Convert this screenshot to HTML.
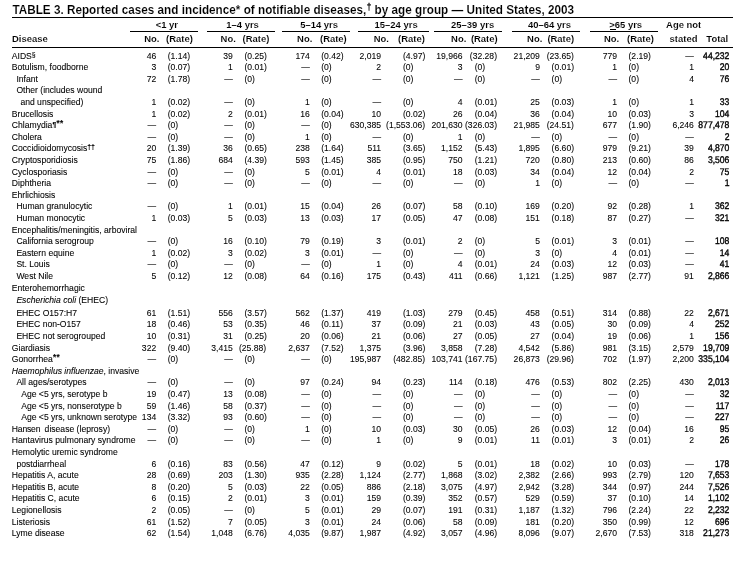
<!DOCTYPE html>
<html><head><meta charset="utf-8"><title>Table 3</title><style>
*{margin:0;padding:0}
html,body{width:755px;height:564px;background:#fff;overflow:hidden}
body{position:relative;filter:grayscale(1);font-family:"Liberation Sans",Arial,Helvetica,sans-serif;color:#000}
.t{position:absolute;white-space:nowrap;-webkit-text-stroke:0.08px #000;font-size:8.6px;line-height:10px}
.r{text-align:right}
.t{transform:scaleY(1.14);transform-origin:0 7.980px}
.h{transform:scaleY(1.0);transform-origin:0 8.274px}
.c{text-align:center}
.b{font-weight:bold;-webkit-text-stroke:0}
.tot{-webkit-text-stroke:0.32px #000;text-rendering:geometricPrecision;transform:scaleY(1.12)}
.ln{position:absolute;height:1px;background:#000}
.ttl{font-size:11.74px;line-height:12px;transform:scaleY(1.12);-webkit-text-stroke:0.12px #fff}
.h{font-size:9.45px;-webkit-text-stroke:0.08px #fff}
sup{font-size:0.74em;font-weight:bold;vertical-align:0;position:relative;top:-0.42em;line-height:0}
sup.s{font-weight:normal;font-size:0.8em;top:-0.3em}
sup.p{font-size:0.8em;top:-0.15em;margin-right:0.3px}
.ts{font-size:0.7em;font-weight:normal;top:-0.5em;margin-left:0.5px;-webkit-text-stroke:0.25px #000}
sup.a{font-size:0.95em;top:-0.2em;letter-spacing:0.4px}
sup.d{font-size:0.82em;top:-0.25em;font-weight:bold;letter-spacing:-0.3px}
</style></head>
<body>
<div class="t " style="left:11.80px;top:50.62px">AIDS<sup class=s>§</sup></div>
<div class="t r " style="right:598.80px;top:50.62px">46</div>
<div class="t " style="left:167.70px;top:50.62px">(1.14)</div>
<div class="t r " style="right:522.20px;top:50.62px">39</div>
<div class="t " style="left:244.40px;top:50.62px">(0.25)</div>
<div class="t r " style="right:445.20px;top:50.62px">174</div>
<div class="t " style="left:321.20px;top:50.62px">(0.42)</div>
<div class="t r " style="right:373.90px;top:50.62px">2,019</div>
<div class="t " style="left:402.90px;top:50.62px">(4.97)</div>
<div class="t r " style="right:292.40px;top:50.62px">19,966</div>
<div class="t r " style="right:258.00px;top:50.62px">(32.28)</div>
<div class="t r " style="right:215.10px;top:50.62px">21,209</div>
<div class="t r " style="right:181.10px;top:50.62px">(23.65)</div>
<div class="t r " style="right:137.90px;top:50.62px">779</div>
<div class="t " style="left:628.50px;top:50.62px">(2.19)</div>
<div class="t r " style="right:61.10px;top:50.62px">—</div>
<div class="t r tot" style="right:25.60px;top:50.62px">44,232</div>
<div class="t " style="left:11.80px;top:61.82px">Botulism, foodborne</div>
<div class="t r " style="right:598.80px;top:61.82px">3</div>
<div class="t " style="left:167.70px;top:61.82px">(0.07)</div>
<div class="t r " style="right:522.20px;top:61.82px">1</div>
<div class="t " style="left:244.40px;top:61.82px">(0.01)</div>
<div class="t r " style="right:445.20px;top:61.82px">—</div>
<div class="t " style="left:321.20px;top:61.82px">(0)</div>
<div class="t r " style="right:373.90px;top:61.82px">2</div>
<div class="t " style="left:402.90px;top:61.82px">(0)</div>
<div class="t r " style="right:292.40px;top:61.82px">3</div>
<div class="t " style="left:474.70px;top:61.82px">(0)</div>
<div class="t r " style="right:215.10px;top:61.82px">9</div>
<div class="t " style="left:551.60px;top:61.82px">(0.01)</div>
<div class="t r " style="right:137.90px;top:61.82px">1</div>
<div class="t " style="left:628.50px;top:61.82px">(0)</div>
<div class="t r " style="right:61.10px;top:61.82px">1</div>
<div class="t r tot" style="right:25.60px;top:61.82px">20</div>
<div class="t " style="left:16.40px;top:73.82px">Infant</div>
<div class="t r " style="right:598.80px;top:73.82px">72</div>
<div class="t " style="left:167.70px;top:73.82px">(1.78)</div>
<div class="t r " style="right:522.20px;top:73.82px">—</div>
<div class="t " style="left:244.40px;top:73.82px">(0)</div>
<div class="t r " style="right:445.20px;top:73.82px">—</div>
<div class="t " style="left:321.20px;top:73.82px">(0)</div>
<div class="t r " style="right:373.90px;top:73.82px">—</div>
<div class="t " style="left:402.90px;top:73.82px">(0)</div>
<div class="t r " style="right:292.40px;top:73.82px">—</div>
<div class="t " style="left:474.70px;top:73.82px">(0)</div>
<div class="t r " style="right:215.10px;top:73.82px">—</div>
<div class="t " style="left:551.60px;top:73.82px">(0)</div>
<div class="t r " style="right:137.90px;top:73.82px">—</div>
<div class="t " style="left:628.50px;top:73.82px">(0)</div>
<div class="t r " style="right:61.10px;top:73.82px">4</div>
<div class="t r tot" style="right:25.60px;top:73.82px">76</div>
<div class="t " style="left:16.40px;top:84.52px">Other (includes wound</div>
<div class="t " style="left:20.40px;top:97.22px">and unspecified)</div>
<div class="t r " style="right:598.80px;top:97.22px">1</div>
<div class="t " style="left:167.70px;top:97.22px">(0.02)</div>
<div class="t r " style="right:522.20px;top:97.22px">—</div>
<div class="t " style="left:244.40px;top:97.22px">(0)</div>
<div class="t r " style="right:445.20px;top:97.22px">1</div>
<div class="t " style="left:321.20px;top:97.22px">(0)</div>
<div class="t r " style="right:373.90px;top:97.22px">—</div>
<div class="t " style="left:402.90px;top:97.22px">(0)</div>
<div class="t r " style="right:292.40px;top:97.22px">4</div>
<div class="t " style="left:474.70px;top:97.22px">(0.01)</div>
<div class="t r " style="right:215.10px;top:97.22px">25</div>
<div class="t " style="left:551.60px;top:97.22px">(0.03)</div>
<div class="t r " style="right:137.90px;top:97.22px">1</div>
<div class="t " style="left:628.50px;top:97.22px">(0)</div>
<div class="t r " style="right:61.10px;top:97.22px">1</div>
<div class="t r tot" style="right:25.60px;top:97.22px">33</div>
<div class="t " style="left:11.80px;top:109.42px">Brucellosis</div>
<div class="t r " style="right:598.80px;top:109.42px">1</div>
<div class="t " style="left:167.70px;top:109.42px">(0.02)</div>
<div class="t r " style="right:522.20px;top:109.42px">2</div>
<div class="t " style="left:244.40px;top:109.42px">(0.01)</div>
<div class="t r " style="right:445.20px;top:109.42px">16</div>
<div class="t " style="left:321.20px;top:109.42px">(0.04)</div>
<div class="t r " style="right:373.90px;top:109.42px">10</div>
<div class="t " style="left:402.90px;top:109.42px">(0.02)</div>
<div class="t r " style="right:292.40px;top:109.42px">26</div>
<div class="t " style="left:474.70px;top:109.42px">(0.04)</div>
<div class="t r " style="right:215.10px;top:109.42px">36</div>
<div class="t " style="left:551.60px;top:109.42px">(0.04)</div>
<div class="t r " style="right:137.90px;top:109.42px">10</div>
<div class="t " style="left:628.50px;top:109.42px">(0.03)</div>
<div class="t r " style="right:61.10px;top:109.42px">3</div>
<div class="t r tot" style="right:25.60px;top:109.42px">104</div>
<div class="t " style="left:11.80px;top:119.92px">Chlamydia<sup class=p>¶</sup><sup class=a>**</sup></div>
<div class="t r " style="right:598.80px;top:119.92px">—</div>
<div class="t " style="left:167.70px;top:119.92px">(0)</div>
<div class="t r " style="right:522.20px;top:119.92px">—</div>
<div class="t " style="left:244.40px;top:119.92px">(0)</div>
<div class="t r " style="right:445.20px;top:119.92px">—</div>
<div class="t " style="left:321.20px;top:119.92px">(0)</div>
<div class="t r " style="right:373.90px;top:119.92px">630,385</div>
<div class="t r " style="right:329.80px;top:119.92px">(1,553.06)</div>
<div class="t r " style="right:292.40px;top:119.92px">201,630</div>
<div class="t r " style="right:258.00px;top:119.92px">(326.03)</div>
<div class="t r " style="right:215.10px;top:119.92px">21,985</div>
<div class="t r " style="right:181.10px;top:119.92px">(24.51)</div>
<div class="t r " style="right:137.90px;top:119.92px">677</div>
<div class="t " style="left:628.50px;top:119.92px">(1.90)</div>
<div class="t r " style="right:61.10px;top:119.92px">6,246</div>
<div class="t r tot" style="right:25.60px;top:119.92px">877,478</div>
<div class="t " style="left:11.80px;top:131.62px">Cholera</div>
<div class="t r " style="right:598.80px;top:131.62px">—</div>
<div class="t " style="left:167.70px;top:131.62px">(0)</div>
<div class="t r " style="right:522.20px;top:131.62px">—</div>
<div class="t " style="left:244.40px;top:131.62px">(0)</div>
<div class="t r " style="right:445.20px;top:131.62px">1</div>
<div class="t " style="left:321.20px;top:131.62px">(0)</div>
<div class="t r " style="right:373.90px;top:131.62px">—</div>
<div class="t " style="left:402.90px;top:131.62px">(0)</div>
<div class="t r " style="right:292.40px;top:131.62px">1</div>
<div class="t " style="left:474.70px;top:131.62px">(0)</div>
<div class="t r " style="right:215.10px;top:131.62px">—</div>
<div class="t " style="left:551.60px;top:131.62px">(0)</div>
<div class="t r " style="right:137.90px;top:131.62px">—</div>
<div class="t " style="left:628.50px;top:131.62px">(0)</div>
<div class="t r " style="right:61.10px;top:131.62px">—</div>
<div class="t r tot" style="right:25.60px;top:131.62px">2</div>
<div class="t " style="left:11.80px;top:142.52px">Coccidioidomycosis<sup class=d>††</sup></div>
<div class="t r " style="right:598.80px;top:142.52px">20</div>
<div class="t " style="left:167.70px;top:142.52px">(1.39)</div>
<div class="t r " style="right:522.20px;top:142.52px">36</div>
<div class="t " style="left:244.40px;top:142.52px">(0.65)</div>
<div class="t r " style="right:445.20px;top:142.52px">238</div>
<div class="t " style="left:321.20px;top:142.52px">(1.64)</div>
<div class="t r " style="right:373.90px;top:142.52px">511</div>
<div class="t " style="left:402.90px;top:142.52px">(3.65)</div>
<div class="t r " style="right:292.40px;top:142.52px">1,152</div>
<div class="t " style="left:474.70px;top:142.52px">(5.43)</div>
<div class="t r " style="right:215.10px;top:142.52px">1,895</div>
<div class="t " style="left:551.60px;top:142.52px">(6.60)</div>
<div class="t r " style="right:137.90px;top:142.52px">979</div>
<div class="t " style="left:628.50px;top:142.52px">(9.21)</div>
<div class="t r " style="right:61.10px;top:142.52px">39</div>
<div class="t r tot" style="right:25.60px;top:142.52px">4,870</div>
<div class="t " style="left:11.80px;top:154.92px">Cryptosporidiosis</div>
<div class="t r " style="right:598.80px;top:154.92px">75</div>
<div class="t " style="left:167.70px;top:154.92px">(1.86)</div>
<div class="t r " style="right:522.20px;top:154.92px">684</div>
<div class="t " style="left:244.40px;top:154.92px">(4.39)</div>
<div class="t r " style="right:445.20px;top:154.92px">593</div>
<div class="t " style="left:321.20px;top:154.92px">(1.45)</div>
<div class="t r " style="right:373.90px;top:154.92px">385</div>
<div class="t " style="left:402.90px;top:154.92px">(0.95)</div>
<div class="t r " style="right:292.40px;top:154.92px">750</div>
<div class="t " style="left:474.70px;top:154.92px">(1.21)</div>
<div class="t r " style="right:215.10px;top:154.92px">720</div>
<div class="t " style="left:551.60px;top:154.92px">(0.80)</div>
<div class="t r " style="right:137.90px;top:154.92px">213</div>
<div class="t " style="left:628.50px;top:154.92px">(0.60)</div>
<div class="t r " style="right:61.10px;top:154.92px">86</div>
<div class="t r tot" style="right:25.60px;top:154.92px">3,506</div>
<div class="t " style="left:11.80px;top:167.42px">Cyclosporiasis</div>
<div class="t r " style="right:598.80px;top:167.42px">—</div>
<div class="t " style="left:167.70px;top:167.42px">(0)</div>
<div class="t r " style="right:522.20px;top:167.42px">—</div>
<div class="t " style="left:244.40px;top:167.42px">(0)</div>
<div class="t r " style="right:445.20px;top:167.42px">5</div>
<div class="t " style="left:321.20px;top:167.42px">(0.01)</div>
<div class="t r " style="right:373.90px;top:167.42px">4</div>
<div class="t " style="left:402.90px;top:167.42px">(0.01)</div>
<div class="t r " style="right:292.40px;top:167.42px">18</div>
<div class="t " style="left:474.70px;top:167.42px">(0.03)</div>
<div class="t r " style="right:215.10px;top:167.42px">34</div>
<div class="t " style="left:551.60px;top:167.42px">(0.04)</div>
<div class="t r " style="right:137.90px;top:167.42px">12</div>
<div class="t " style="left:628.50px;top:167.42px">(0.04)</div>
<div class="t r " style="right:61.10px;top:167.42px">2</div>
<div class="t r tot" style="right:25.60px;top:167.42px">75</div>
<div class="t " style="left:11.80px;top:177.52px">Diphtheria</div>
<div class="t r " style="right:598.80px;top:177.52px">—</div>
<div class="t " style="left:167.70px;top:177.52px">(0)</div>
<div class="t r " style="right:522.20px;top:177.52px">—</div>
<div class="t " style="left:244.40px;top:177.52px">(0)</div>
<div class="t r " style="right:445.20px;top:177.52px">—</div>
<div class="t " style="left:321.20px;top:177.52px">(0)</div>
<div class="t r " style="right:373.90px;top:177.52px">—</div>
<div class="t " style="left:402.90px;top:177.52px">(0)</div>
<div class="t r " style="right:292.40px;top:177.52px">—</div>
<div class="t " style="left:474.70px;top:177.52px">(0)</div>
<div class="t r " style="right:215.10px;top:177.52px">1</div>
<div class="t " style="left:551.60px;top:177.52px">(0)</div>
<div class="t r " style="right:137.90px;top:177.52px">—</div>
<div class="t " style="left:628.50px;top:177.52px">(0)</div>
<div class="t r " style="right:61.10px;top:177.52px">—</div>
<div class="t r tot" style="right:25.60px;top:177.52px">1</div>
<div class="t " style="left:11.80px;top:190.02px">Ehrlichiosis</div>
<div class="t " style="left:16.40px;top:200.92px">Human granulocytic</div>
<div class="t r " style="right:598.80px;top:200.92px">—</div>
<div class="t " style="left:167.70px;top:200.92px">(0)</div>
<div class="t r " style="right:522.20px;top:200.92px">1</div>
<div class="t " style="left:244.40px;top:200.92px">(0.01)</div>
<div class="t r " style="right:445.20px;top:200.92px">15</div>
<div class="t " style="left:321.20px;top:200.92px">(0.04)</div>
<div class="t r " style="right:373.90px;top:200.92px">26</div>
<div class="t " style="left:402.90px;top:200.92px">(0.07)</div>
<div class="t r " style="right:292.40px;top:200.92px">58</div>
<div class="t " style="left:474.70px;top:200.92px">(0.10)</div>
<div class="t r " style="right:215.10px;top:200.92px">169</div>
<div class="t " style="left:551.60px;top:200.92px">(0.20)</div>
<div class="t r " style="right:137.90px;top:200.92px">92</div>
<div class="t " style="left:628.50px;top:200.92px">(0.28)</div>
<div class="t r " style="right:61.10px;top:200.92px">1</div>
<div class="t r tot" style="right:25.60px;top:200.92px">362</div>
<div class="t " style="left:16.40px;top:212.62px">Human monocytic</div>
<div class="t r " style="right:598.80px;top:212.62px">1</div>
<div class="t " style="left:167.70px;top:212.62px">(0.03)</div>
<div class="t r " style="right:522.20px;top:212.62px">5</div>
<div class="t " style="left:244.40px;top:212.62px">(0.03)</div>
<div class="t r " style="right:445.20px;top:212.62px">13</div>
<div class="t " style="left:321.20px;top:212.62px">(0.03)</div>
<div class="t r " style="right:373.90px;top:212.62px">17</div>
<div class="t " style="left:402.90px;top:212.62px">(0.05)</div>
<div class="t r " style="right:292.40px;top:212.62px">47</div>
<div class="t " style="left:474.70px;top:212.62px">(0.08)</div>
<div class="t r " style="right:215.10px;top:212.62px">151</div>
<div class="t " style="left:551.60px;top:212.62px">(0.18)</div>
<div class="t r " style="right:137.90px;top:212.62px">87</div>
<div class="t " style="left:628.50px;top:212.62px">(0.27)</div>
<div class="t r " style="right:61.10px;top:212.62px">—</div>
<div class="t r tot" style="right:25.60px;top:212.62px">321</div>
<div class="t " style="left:11.80px;top:224.62px">Encephalitis/meningitis, arboviral</div>
<div class="t " style="left:16.40px;top:235.52px">California serogroup</div>
<div class="t r " style="right:598.80px;top:235.52px">—</div>
<div class="t " style="left:167.70px;top:235.52px">(0)</div>
<div class="t r " style="right:522.20px;top:235.52px">16</div>
<div class="t " style="left:244.40px;top:235.52px">(0.10)</div>
<div class="t r " style="right:445.20px;top:235.52px">79</div>
<div class="t " style="left:321.20px;top:235.52px">(0.19)</div>
<div class="t r " style="right:373.90px;top:235.52px">3</div>
<div class="t " style="left:402.90px;top:235.52px">(0.01)</div>
<div class="t r " style="right:292.40px;top:235.52px">2</div>
<div class="t " style="left:474.70px;top:235.52px">(0)</div>
<div class="t r " style="right:215.10px;top:235.52px">5</div>
<div class="t " style="left:551.60px;top:235.52px">(0.01)</div>
<div class="t r " style="right:137.90px;top:235.52px">3</div>
<div class="t " style="left:628.50px;top:235.52px">(0.01)</div>
<div class="t r " style="right:61.10px;top:235.52px">—</div>
<div class="t r tot" style="right:25.60px;top:235.52px">108</div>
<div class="t " style="left:16.40px;top:247.52px">Eastern equine</div>
<div class="t r " style="right:598.80px;top:247.52px">1</div>
<div class="t " style="left:167.70px;top:247.52px">(0.02)</div>
<div class="t r " style="right:522.20px;top:247.52px">3</div>
<div class="t " style="left:244.40px;top:247.52px">(0.02)</div>
<div class="t r " style="right:445.20px;top:247.52px">3</div>
<div class="t " style="left:321.20px;top:247.52px">(0.01)</div>
<div class="t r " style="right:373.90px;top:247.52px">—</div>
<div class="t " style="left:402.90px;top:247.52px">(0)</div>
<div class="t r " style="right:292.40px;top:247.52px">—</div>
<div class="t " style="left:474.70px;top:247.52px">(0)</div>
<div class="t r " style="right:215.10px;top:247.52px">3</div>
<div class="t " style="left:551.60px;top:247.52px">(0)</div>
<div class="t r " style="right:137.90px;top:247.52px">4</div>
<div class="t " style="left:628.50px;top:247.52px">(0.01)</div>
<div class="t r " style="right:61.10px;top:247.52px">—</div>
<div class="t r tot" style="right:25.60px;top:247.52px">14</div>
<div class="t " style="left:16.40px;top:259.22px">St. Louis</div>
<div class="t r " style="right:598.80px;top:259.22px">—</div>
<div class="t " style="left:167.70px;top:259.22px">(0)</div>
<div class="t r " style="right:522.20px;top:259.22px">—</div>
<div class="t " style="left:244.40px;top:259.22px">(0)</div>
<div class="t r " style="right:445.20px;top:259.22px">—</div>
<div class="t " style="left:321.20px;top:259.22px">(0)</div>
<div class="t r " style="right:373.90px;top:259.22px">1</div>
<div class="t " style="left:402.90px;top:259.22px">(0)</div>
<div class="t r " style="right:292.40px;top:259.22px">4</div>
<div class="t " style="left:474.70px;top:259.22px">(0.01)</div>
<div class="t r " style="right:215.10px;top:259.22px">24</div>
<div class="t " style="left:551.60px;top:259.22px">(0.03)</div>
<div class="t r " style="right:137.90px;top:259.22px">12</div>
<div class="t " style="left:628.50px;top:259.22px">(0.03)</div>
<div class="t r " style="right:61.10px;top:259.22px">—</div>
<div class="t r tot" style="right:25.60px;top:259.22px">41</div>
<div class="t " style="left:16.40px;top:270.62px">West Nile</div>
<div class="t r " style="right:598.80px;top:270.62px">5</div>
<div class="t " style="left:167.70px;top:270.62px">(0.12)</div>
<div class="t r " style="right:522.20px;top:270.62px">12</div>
<div class="t " style="left:244.40px;top:270.62px">(0.08)</div>
<div class="t r " style="right:445.20px;top:270.62px">64</div>
<div class="t " style="left:321.20px;top:270.62px">(0.16)</div>
<div class="t r " style="right:373.90px;top:270.62px">175</div>
<div class="t " style="left:402.90px;top:270.62px">(0.43)</div>
<div class="t r " style="right:292.40px;top:270.62px">411</div>
<div class="t " style="left:474.70px;top:270.62px">(0.66)</div>
<div class="t r " style="right:215.10px;top:270.62px">1,121</div>
<div class="t " style="left:551.60px;top:270.62px">(1.25)</div>
<div class="t r " style="right:137.90px;top:270.62px">987</div>
<div class="t " style="left:628.50px;top:270.62px">(2.77)</div>
<div class="t r " style="right:61.10px;top:270.62px">91</div>
<div class="t r tot" style="right:25.60px;top:270.62px">2,866</div>
<div class="t " style="left:11.80px;top:282.52px">Enterohemorrhagic</div>
<div class="t " style="left:16.40px;top:294.82px"><i>Escherichia coli</i> (EHEC)</div>
<div class="t " style="left:16.40px;top:307.52px">EHEC O157:H7</div>
<div class="t r " style="right:598.80px;top:307.52px">61</div>
<div class="t " style="left:167.70px;top:307.52px">(1.51)</div>
<div class="t r " style="right:522.20px;top:307.52px">556</div>
<div class="t " style="left:244.40px;top:307.52px">(3.57)</div>
<div class="t r " style="right:445.20px;top:307.52px">562</div>
<div class="t " style="left:321.20px;top:307.52px">(1.37)</div>
<div class="t r " style="right:373.90px;top:307.52px">419</div>
<div class="t " style="left:402.90px;top:307.52px">(1.03)</div>
<div class="t r " style="right:292.40px;top:307.52px">279</div>
<div class="t " style="left:474.70px;top:307.52px">(0.45)</div>
<div class="t r " style="right:215.10px;top:307.52px">458</div>
<div class="t " style="left:551.60px;top:307.52px">(0.51)</div>
<div class="t r " style="right:137.90px;top:307.52px">314</div>
<div class="t " style="left:628.50px;top:307.52px">(0.88)</div>
<div class="t r " style="right:61.10px;top:307.52px">22</div>
<div class="t r tot" style="right:25.60px;top:307.52px">2,671</div>
<div class="t " style="left:16.40px;top:318.52px">EHEC non-O157</div>
<div class="t r " style="right:598.80px;top:318.52px">18</div>
<div class="t " style="left:167.70px;top:318.52px">(0.46)</div>
<div class="t r " style="right:522.20px;top:318.52px">53</div>
<div class="t " style="left:244.40px;top:318.52px">(0.35)</div>
<div class="t r " style="right:445.20px;top:318.52px">46</div>
<div class="t " style="left:321.20px;top:318.52px">(0.11)</div>
<div class="t r " style="right:373.90px;top:318.52px">37</div>
<div class="t " style="left:402.90px;top:318.52px">(0.09)</div>
<div class="t r " style="right:292.40px;top:318.52px">21</div>
<div class="t " style="left:474.70px;top:318.52px">(0.03)</div>
<div class="t r " style="right:215.10px;top:318.52px">43</div>
<div class="t " style="left:551.60px;top:318.52px">(0.05)</div>
<div class="t r " style="right:137.90px;top:318.52px">30</div>
<div class="t " style="left:628.50px;top:318.52px">(0.09)</div>
<div class="t r " style="right:61.10px;top:318.52px">4</div>
<div class="t r tot" style="right:25.60px;top:318.52px">252</div>
<div class="t " style="left:16.40px;top:331.22px">EHEC not serogrouped</div>
<div class="t r " style="right:598.80px;top:331.22px">10</div>
<div class="t " style="left:167.70px;top:331.22px">(0.31)</div>
<div class="t r " style="right:522.20px;top:331.22px">31</div>
<div class="t " style="left:244.40px;top:331.22px">(0.25)</div>
<div class="t r " style="right:445.20px;top:331.22px">20</div>
<div class="t " style="left:321.20px;top:331.22px">(0.06)</div>
<div class="t r " style="right:373.90px;top:331.22px">21</div>
<div class="t " style="left:402.90px;top:331.22px">(0.06)</div>
<div class="t r " style="right:292.40px;top:331.22px">27</div>
<div class="t " style="left:474.70px;top:331.22px">(0.05)</div>
<div class="t r " style="right:215.10px;top:331.22px">27</div>
<div class="t " style="left:551.60px;top:331.22px">(0.04)</div>
<div class="t r " style="right:137.90px;top:331.22px">19</div>
<div class="t " style="left:628.50px;top:331.22px">(0.06)</div>
<div class="t r " style="right:61.10px;top:331.22px">1</div>
<div class="t r tot" style="right:25.60px;top:331.22px">156</div>
<div class="t " style="left:11.80px;top:342.82px">Giardiasis</div>
<div class="t r " style="right:598.80px;top:342.82px">322</div>
<div class="t " style="left:167.70px;top:342.82px">(9.40)</div>
<div class="t r " style="right:522.20px;top:342.82px">3,415</div>
<div class="t r " style="right:488.90px;top:342.82px">(25.88)</div>
<div class="t r " style="right:445.20px;top:342.82px">2,637</div>
<div class="t " style="left:321.20px;top:342.82px">(7.52)</div>
<div class="t r " style="right:373.90px;top:342.82px">1,375</div>
<div class="t " style="left:402.90px;top:342.82px">(3.96)</div>
<div class="t r " style="right:292.40px;top:342.82px">3,858</div>
<div class="t " style="left:474.70px;top:342.82px">(7.28)</div>
<div class="t r " style="right:215.10px;top:342.82px">4,542</div>
<div class="t " style="left:551.60px;top:342.82px">(5.86)</div>
<div class="t r " style="right:137.90px;top:342.82px">981</div>
<div class="t " style="left:628.50px;top:342.82px">(3.15)</div>
<div class="t r " style="right:61.10px;top:342.82px">2,579</div>
<div class="t r tot" style="right:25.60px;top:342.82px">19,709</div>
<div class="t " style="left:11.80px;top:354.12px">Gonorrhea<sup class=a>**</sup></div>
<div class="t r " style="right:598.80px;top:354.12px">—</div>
<div class="t " style="left:167.70px;top:354.12px">(0)</div>
<div class="t r " style="right:522.20px;top:354.12px">—</div>
<div class="t " style="left:244.40px;top:354.12px">(0)</div>
<div class="t r " style="right:445.20px;top:354.12px">—</div>
<div class="t " style="left:321.20px;top:354.12px">(0)</div>
<div class="t r " style="right:373.90px;top:354.12px">195,987</div>
<div class="t r " style="right:329.80px;top:354.12px">(482.85)</div>
<div class="t r " style="right:292.40px;top:354.12px">103,741</div>
<div class="t r " style="right:258.00px;top:354.12px">(167.75)</div>
<div class="t r " style="right:215.10px;top:354.12px">26,873</div>
<div class="t r " style="right:181.10px;top:354.12px">(29.96)</div>
<div class="t r " style="right:137.90px;top:354.12px">702</div>
<div class="t " style="left:628.50px;top:354.12px">(1.97)</div>
<div class="t r " style="right:61.10px;top:354.12px">2,200</div>
<div class="t r tot" style="right:25.60px;top:354.12px">335,104</div>
<div class="t " style="left:11.80px;top:365.52px"><i>Haemophilus influenzae</i>, invasive</div>
<div class="t " style="left:16.40px;top:376.72px">All ages/serotypes</div>
<div class="t r " style="right:598.80px;top:376.72px">—</div>
<div class="t " style="left:167.70px;top:376.72px">(0)</div>
<div class="t r " style="right:522.20px;top:376.72px">—</div>
<div class="t " style="left:244.40px;top:376.72px">(0)</div>
<div class="t r " style="right:445.20px;top:376.72px">97</div>
<div class="t " style="left:321.20px;top:376.72px">(0.24)</div>
<div class="t r " style="right:373.90px;top:376.72px">94</div>
<div class="t " style="left:402.90px;top:376.72px">(0.23)</div>
<div class="t r " style="right:292.40px;top:376.72px">114</div>
<div class="t " style="left:474.70px;top:376.72px">(0.18)</div>
<div class="t r " style="right:215.10px;top:376.72px">476</div>
<div class="t " style="left:551.60px;top:376.72px">(0.53)</div>
<div class="t r " style="right:137.90px;top:376.72px">802</div>
<div class="t " style="left:628.50px;top:376.72px">(2.25)</div>
<div class="t r " style="right:61.10px;top:376.72px">430</div>
<div class="t r tot" style="right:25.60px;top:376.72px">2,013</div>
<div class="t " style="left:21.20px;top:388.62px">Age &lt;5 yrs, serotype b</div>
<div class="t r " style="right:598.80px;top:388.62px">19</div>
<div class="t " style="left:167.70px;top:388.62px">(0.47)</div>
<div class="t r " style="right:522.20px;top:388.62px">13</div>
<div class="t " style="left:244.40px;top:388.62px">(0.08)</div>
<div class="t r " style="right:445.20px;top:388.62px">—</div>
<div class="t " style="left:321.20px;top:388.62px">(0)</div>
<div class="t r " style="right:373.90px;top:388.62px">—</div>
<div class="t " style="left:402.90px;top:388.62px">(0)</div>
<div class="t r " style="right:292.40px;top:388.62px">—</div>
<div class="t " style="left:474.70px;top:388.62px">(0)</div>
<div class="t r " style="right:215.10px;top:388.62px">—</div>
<div class="t " style="left:551.60px;top:388.62px">(0)</div>
<div class="t r " style="right:137.90px;top:388.62px">—</div>
<div class="t " style="left:628.50px;top:388.62px">(0)</div>
<div class="t r " style="right:61.10px;top:388.62px">—</div>
<div class="t r tot" style="right:25.60px;top:388.62px">32</div>
<div class="t " style="left:21.20px;top:400.52px">Age &lt;5 yrs, nonserotype b</div>
<div class="t r " style="right:598.80px;top:400.52px">59</div>
<div class="t " style="left:167.70px;top:400.52px">(1.46)</div>
<div class="t r " style="right:522.20px;top:400.52px">58</div>
<div class="t " style="left:244.40px;top:400.52px">(0.37)</div>
<div class="t r " style="right:445.20px;top:400.52px">—</div>
<div class="t " style="left:321.20px;top:400.52px">(0)</div>
<div class="t r " style="right:373.90px;top:400.52px">—</div>
<div class="t " style="left:402.90px;top:400.52px">(0)</div>
<div class="t r " style="right:292.40px;top:400.52px">—</div>
<div class="t " style="left:474.70px;top:400.52px">(0)</div>
<div class="t r " style="right:215.10px;top:400.52px">—</div>
<div class="t " style="left:551.60px;top:400.52px">(0)</div>
<div class="t r " style="right:137.90px;top:400.52px">—</div>
<div class="t " style="left:628.50px;top:400.52px">(0)</div>
<div class="t r " style="right:61.10px;top:400.52px">—</div>
<div class="t r tot" style="right:25.60px;top:400.52px">117</div>
<div class="t " style="left:21.20px;top:411.52px">Age &lt;5 yrs, unknown serotype</div>
<div class="t r " style="right:598.80px;top:411.52px">134</div>
<div class="t " style="left:167.70px;top:411.52px">(3.32)</div>
<div class="t r " style="right:522.20px;top:411.52px">93</div>
<div class="t " style="left:244.40px;top:411.52px">(0.60)</div>
<div class="t r " style="right:445.20px;top:411.52px">—</div>
<div class="t " style="left:321.20px;top:411.52px">(0)</div>
<div class="t r " style="right:373.90px;top:411.52px">—</div>
<div class="t " style="left:402.90px;top:411.52px">(0)</div>
<div class="t r " style="right:292.40px;top:411.52px">—</div>
<div class="t " style="left:474.70px;top:411.52px">(0)</div>
<div class="t r " style="right:215.10px;top:411.52px">—</div>
<div class="t " style="left:551.60px;top:411.52px">(0)</div>
<div class="t r " style="right:137.90px;top:411.52px">—</div>
<div class="t " style="left:628.50px;top:411.52px">(0)</div>
<div class="t r " style="right:61.10px;top:411.52px">—</div>
<div class="t r tot" style="right:25.60px;top:411.52px">227</div>
<div class="t " style="left:11.80px;top:423.52px"><span style="letter-spacing:-0.2px">Hansen</span><span style="margin-left:2px"> </span>disease (leprosy)</div>
<div class="t r " style="right:598.80px;top:423.52px">—</div>
<div class="t " style="left:167.70px;top:423.52px">(0)</div>
<div class="t r " style="right:522.20px;top:423.52px">—</div>
<div class="t " style="left:244.40px;top:423.52px">(0)</div>
<div class="t r " style="right:445.20px;top:423.52px">1</div>
<div class="t " style="left:321.20px;top:423.52px">(0)</div>
<div class="t r " style="right:373.90px;top:423.52px">10</div>
<div class="t " style="left:402.90px;top:423.52px">(0.03)</div>
<div class="t r " style="right:292.40px;top:423.52px">30</div>
<div class="t " style="left:474.70px;top:423.52px">(0.05)</div>
<div class="t r " style="right:215.10px;top:423.52px">26</div>
<div class="t " style="left:551.60px;top:423.52px">(0.03)</div>
<div class="t r " style="right:137.90px;top:423.52px">12</div>
<div class="t " style="left:628.50px;top:423.52px">(0.04)</div>
<div class="t r " style="right:61.10px;top:423.52px">16</div>
<div class="t r tot" style="right:25.60px;top:423.52px">95</div>
<div class="t " style="left:11.80px;top:434.92px">Hantavirus pulmonary syndrome</div>
<div class="t r " style="right:598.80px;top:434.92px">—</div>
<div class="t " style="left:167.70px;top:434.92px">(0)</div>
<div class="t r " style="right:522.20px;top:434.92px">—</div>
<div class="t " style="left:244.40px;top:434.92px">(0)</div>
<div class="t r " style="right:445.20px;top:434.92px">—</div>
<div class="t " style="left:321.20px;top:434.92px">(0)</div>
<div class="t r " style="right:373.90px;top:434.92px">1</div>
<div class="t " style="left:402.90px;top:434.92px">(0)</div>
<div class="t r " style="right:292.40px;top:434.92px">9</div>
<div class="t " style="left:474.70px;top:434.92px">(0.01)</div>
<div class="t r " style="right:215.10px;top:434.92px">11</div>
<div class="t " style="left:551.60px;top:434.92px">(0.01)</div>
<div class="t r " style="right:137.90px;top:434.92px">3</div>
<div class="t " style="left:628.50px;top:434.92px">(0.01)</div>
<div class="t r " style="right:61.10px;top:434.92px">2</div>
<div class="t r tot" style="right:25.60px;top:434.92px">26</div>
<div class="t " style="left:11.80px;top:446.92px">Hemolytic uremic syndrome</div>
<div class="t " style="left:16.40px;top:458.82px">postdiarrheal</div>
<div class="t r " style="right:598.80px;top:458.82px">6</div>
<div class="t " style="left:167.70px;top:458.82px">(0.16)</div>
<div class="t r " style="right:522.20px;top:458.82px">83</div>
<div class="t " style="left:244.40px;top:458.82px">(0.56)</div>
<div class="t r " style="right:445.20px;top:458.82px">47</div>
<div class="t " style="left:321.20px;top:458.82px">(0.12)</div>
<div class="t r " style="right:373.90px;top:458.82px">9</div>
<div class="t " style="left:402.90px;top:458.82px">(0.02)</div>
<div class="t r " style="right:292.40px;top:458.82px">5</div>
<div class="t " style="left:474.70px;top:458.82px">(0.01)</div>
<div class="t r " style="right:215.10px;top:458.82px">18</div>
<div class="t " style="left:551.60px;top:458.82px">(0.02)</div>
<div class="t r " style="right:137.90px;top:458.82px">10</div>
<div class="t " style="left:628.50px;top:458.82px">(0.03)</div>
<div class="t r " style="right:61.10px;top:458.82px">—</div>
<div class="t r tot" style="right:25.60px;top:458.82px">178</div>
<div class="t " style="left:11.80px;top:469.72px">Hepatitis A, acute</div>
<div class="t r " style="right:598.80px;top:469.72px">28</div>
<div class="t " style="left:167.70px;top:469.72px">(0.69)</div>
<div class="t r " style="right:522.20px;top:469.72px">203</div>
<div class="t " style="left:244.40px;top:469.72px">(1.30)</div>
<div class="t r " style="right:445.20px;top:469.72px">935</div>
<div class="t " style="left:321.20px;top:469.72px">(2.28)</div>
<div class="t r " style="right:373.90px;top:469.72px">1,124</div>
<div class="t " style="left:402.90px;top:469.72px">(2.77)</div>
<div class="t r " style="right:292.40px;top:469.72px">1,868</div>
<div class="t " style="left:474.70px;top:469.72px">(3.02)</div>
<div class="t r " style="right:215.10px;top:469.72px">2,382</div>
<div class="t " style="left:551.60px;top:469.72px">(2.66)</div>
<div class="t r " style="right:137.90px;top:469.72px">993</div>
<div class="t " style="left:628.50px;top:469.72px">(2.79)</div>
<div class="t r " style="right:61.10px;top:469.72px">120</div>
<div class="t r tot" style="right:25.60px;top:469.72px">7,653</div>
<div class="t " style="left:11.80px;top:481.72px">Hepatitis B, acute</div>
<div class="t r " style="right:598.80px;top:481.72px">8</div>
<div class="t " style="left:167.70px;top:481.72px">(0.20)</div>
<div class="t r " style="right:522.20px;top:481.72px">5</div>
<div class="t " style="left:244.40px;top:481.72px">(0.03)</div>
<div class="t r " style="right:445.20px;top:481.72px">22</div>
<div class="t " style="left:321.20px;top:481.72px">(0.05)</div>
<div class="t r " style="right:373.90px;top:481.72px">886</div>
<div class="t " style="left:402.90px;top:481.72px">(2.18)</div>
<div class="t r " style="right:292.40px;top:481.72px">3,075</div>
<div class="t " style="left:474.70px;top:481.72px">(4.97)</div>
<div class="t r " style="right:215.10px;top:481.72px">2,942</div>
<div class="t " style="left:551.60px;top:481.72px">(3.28)</div>
<div class="t r " style="right:137.90px;top:481.72px">344</div>
<div class="t " style="left:628.50px;top:481.72px">(0.97)</div>
<div class="t r " style="right:61.10px;top:481.72px">244</div>
<div class="t r tot" style="right:25.60px;top:481.72px">7,526</div>
<div class="t " style="left:11.80px;top:492.92px">Hepatitis C, acute</div>
<div class="t r " style="right:598.80px;top:492.92px">6</div>
<div class="t " style="left:167.70px;top:492.92px">(0.15)</div>
<div class="t r " style="right:522.20px;top:492.92px">2</div>
<div class="t " style="left:244.40px;top:492.92px">(0.01)</div>
<div class="t r " style="right:445.20px;top:492.92px">3</div>
<div class="t " style="left:321.20px;top:492.92px">(0.01)</div>
<div class="t r " style="right:373.90px;top:492.92px">159</div>
<div class="t " style="left:402.90px;top:492.92px">(0.39)</div>
<div class="t r " style="right:292.40px;top:492.92px">352</div>
<div class="t " style="left:474.70px;top:492.92px">(0.57)</div>
<div class="t r " style="right:215.10px;top:492.92px">529</div>
<div class="t " style="left:551.60px;top:492.92px">(0.59)</div>
<div class="t r " style="right:137.90px;top:492.92px">37</div>
<div class="t " style="left:628.50px;top:492.92px">(0.10)</div>
<div class="t r " style="right:61.10px;top:492.92px">14</div>
<div class="t r tot" style="right:25.60px;top:492.92px">1,102</div>
<div class="t " style="left:11.80px;top:504.52px">Legionellosis</div>
<div class="t r " style="right:598.80px;top:504.52px">2</div>
<div class="t " style="left:167.70px;top:504.52px">(0.05)</div>
<div class="t r " style="right:522.20px;top:504.52px">—</div>
<div class="t " style="left:244.40px;top:504.52px">(0)</div>
<div class="t r " style="right:445.20px;top:504.52px">5</div>
<div class="t " style="left:321.20px;top:504.52px">(0.01)</div>
<div class="t r " style="right:373.90px;top:504.52px">29</div>
<div class="t " style="left:402.90px;top:504.52px">(0.07)</div>
<div class="t r " style="right:292.40px;top:504.52px">191</div>
<div class="t " style="left:474.70px;top:504.52px">(0.31)</div>
<div class="t r " style="right:215.10px;top:504.52px">1,187</div>
<div class="t " style="left:551.60px;top:504.52px">(1.32)</div>
<div class="t r " style="right:137.90px;top:504.52px">796</div>
<div class="t " style="left:628.50px;top:504.52px">(2.24)</div>
<div class="t r " style="right:61.10px;top:504.52px">22</div>
<div class="t r tot" style="right:25.60px;top:504.52px">2,232</div>
<div class="t " style="left:11.80px;top:517.12px">Listeriosis</div>
<div class="t r " style="right:598.80px;top:517.12px">61</div>
<div class="t " style="left:167.70px;top:517.12px">(1.52)</div>
<div class="t r " style="right:522.20px;top:517.12px">7</div>
<div class="t " style="left:244.40px;top:517.12px">(0.05)</div>
<div class="t r " style="right:445.20px;top:517.12px">3</div>
<div class="t " style="left:321.20px;top:517.12px">(0.01)</div>
<div class="t r " style="right:373.90px;top:517.12px">24</div>
<div class="t " style="left:402.90px;top:517.12px">(0.06)</div>
<div class="t r " style="right:292.40px;top:517.12px">58</div>
<div class="t " style="left:474.70px;top:517.12px">(0.09)</div>
<div class="t r " style="right:215.10px;top:517.12px">181</div>
<div class="t " style="left:551.60px;top:517.12px">(0.20)</div>
<div class="t r " style="right:137.90px;top:517.12px">350</div>
<div class="t " style="left:628.50px;top:517.12px">(0.99)</div>
<div class="t r " style="right:61.10px;top:517.12px">12</div>
<div class="t r tot" style="right:25.60px;top:517.12px">696</div>
<div class="t " style="left:11.80px;top:527.72px">Lyme disease</div>
<div class="t r " style="right:598.80px;top:527.72px">62</div>
<div class="t " style="left:167.70px;top:527.72px">(1.54)</div>
<div class="t r " style="right:522.20px;top:527.72px">1,048</div>
<div class="t " style="left:244.40px;top:527.72px">(6.76)</div>
<div class="t r " style="right:445.20px;top:527.72px">4,035</div>
<div class="t " style="left:321.20px;top:527.72px">(9.87)</div>
<div class="t r " style="right:373.90px;top:527.72px">1,987</div>
<div class="t " style="left:402.90px;top:527.72px">(4.92)</div>
<div class="t r " style="right:292.40px;top:527.72px">3,057</div>
<div class="t " style="left:474.70px;top:527.72px">(4.96)</div>
<div class="t r " style="right:215.10px;top:527.72px">8,096</div>
<div class="t " style="left:551.60px;top:527.72px">(9.07)</div>
<div class="t r " style="right:137.90px;top:527.72px">2,670</div>
<div class="t " style="left:628.50px;top:527.72px">(7.53)</div>
<div class="t r " style="right:61.10px;top:527.72px">318</div>
<div class="t r tot" style="right:25.60px;top:527.72px">21,273</div>
<div class="ln" style="left:609.9px;width:6px;top:28.6px;height:0.9px"></div>
<div class="t b h" style="left:155.70px;top:20.13px">&lt;1 yr</div>
<div class="ln" style="left:130.00px;width:67.90px;top:31px"></div>
<div class="t b h" style="left:226.30px;top:20.13px">1–4 yrs</div>
<div class="ln" style="left:207.00px;width:67.90px;top:31px"></div>
<div class="t b h" style="left:300.20px;top:20.13px">5–14 yrs</div>
<div class="ln" style="left:282.10px;width:67.90px;top:31px"></div>
<div class="t b h" style="left:374.60px;top:20.13px">15–24 yrs</div>
<div class="ln" style="left:358.10px;width:70.60px;top:31px"></div>
<div class="t b h" style="left:451.10px;top:20.13px">25–39 yrs</div>
<div class="ln" style="left:434.10px;width:67.70px;top:31px"></div>
<div class="t b h" style="left:528.00px;top:20.13px">40–64 yrs</div>
<div class="ln" style="left:512.00px;width:68.00px;top:31px"></div>
<div class="t b h" style="left:609.30px;top:20.13px">&gt;65 yrs</div>
<div class="ln" style="left:589.70px;width:68.00px;top:31px"></div>
<div class="t b h" style="left:144.20px;top:33.93px">No.</div>
<div class="t b h" style="left:220.60px;top:33.93px">No.</div>
<div class="t b h" style="left:297.10px;top:33.93px">No.</div>
<div class="t b h" style="left:373.70px;top:33.93px">No.</div>
<div class="t b h" style="left:451.10px;top:33.93px">No.</div>
<div class="t b h" style="left:527.10px;top:33.93px">No.</div>
<div class="t b h" style="left:603.90px;top:33.93px">No.</div>
<div class="t b h" style="left:166.10px;top:33.93px">(Rate)</div>
<div class="t b h" style="left:242.60px;top:33.93px">(Rate)</div>
<div class="t b h" style="left:320.00px;top:33.93px">(Rate)</div>
<div class="t b h" style="left:398.10px;top:33.93px">(Rate)</div>
<div class="t b h" style="left:470.90px;top:33.93px">(Rate)</div>
<div class="t b h" style="left:547.40px;top:33.93px">(Rate)</div>
<div class="t b h" style="left:627.10px;top:33.93px">(Rate)</div>
<div class="t b h" style="left:12.00px;top:33.63px">Disease</div>
<div class="t b h" style="left:666.10px;top:20.13px">Age not</div>
<div class="t b h" style="left:669.60px;top:33.93px">stated</div>
<div class="t b h r" style="right:26.80px;top:33.93px">Total</div>
<div class="t b ttl" style="left:12.4px;top:3.83px;transform-origin:0 10.07px">TABLE 3. Reported cases and incidence* of notifiable diseases,<sup class="ts">†</sup> by age group — United States, 2003</div>
<div class="ln" style="left:12px;width:721px;top:17px"></div>
<div class="ln" style="left:12px;width:721px;top:47px"></div>
</body></html>
